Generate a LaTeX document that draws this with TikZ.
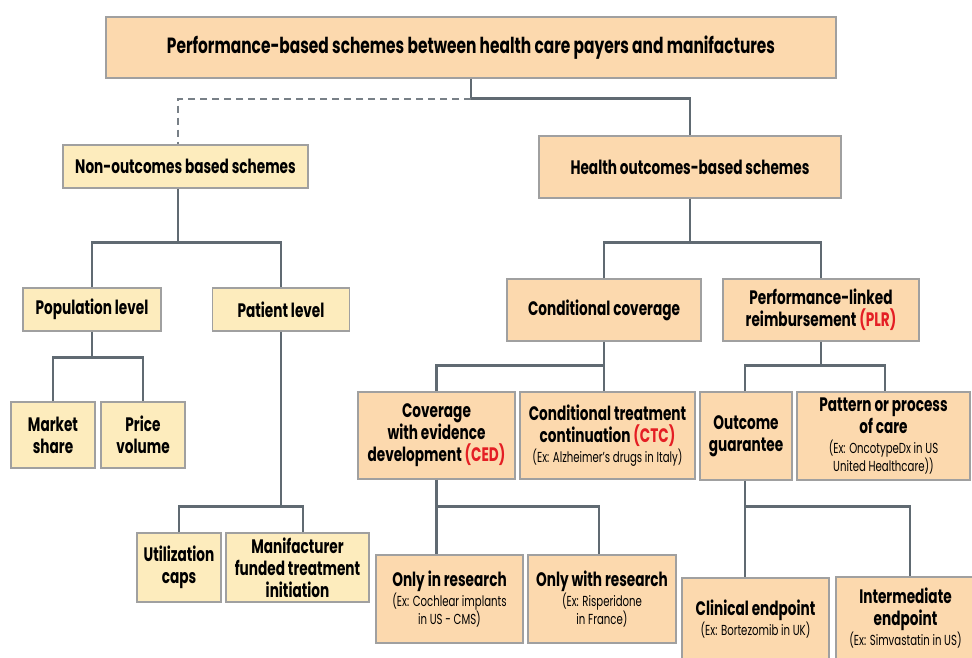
\documentclass[tikz,border=0pt]{standalone}
\usepackage{fontspec}
\setmainfont{Poppins}[FakeStretch=0.70]
\usetikzlibrary{calc}
\definecolor{peach}{RGB}{252,217,174}
\definecolor{paleyel}{RGB}{253,236,189}
\definecolor{boxline}{RGB}{160,160,160}
\definecolor{connline}{RGB}{96,106,114}
\definecolor{redtxt}{RGB}{228,30,36}
\newcommand{\rd}[1]{{\color{redtxt}#1}}
\newcommand{\sm}{\fontsize{14.5}{16}\selectfont\mdseries}
\tikzset{
  bx/.style={draw=boxline, line width=1.2pt, rectangle, inner sep=2pt, align=center,
    font=\fontsize{19.5}{22}\selectfont\bfseries},
  pk/.style={bx, fill=peach},
  yl/.style={bx, fill=paleyel},
  conn/.style={draw=connline, line width=2.3pt},
  dconn/.style={draw=connline!85, line width=2pt, dash pattern=on 7pt off 5pt},
}
\begin{document}
\begin{tikzpicture}[x=1pt,y=-1pt]
\useasboundingbox (0,0) rectangle (972,657);
\begin{scope}
\clip (0,0) rectangle (972,657);
% nodes
\node[pk, minimum width=730pt, minimum height=61pt, font=\fontsize{22}{24}\selectfont\bfseries] (top) at (471,47.5) {Performance-based schemes between health care payers and manifactures};
\node[yl, minimum width=245pt, minimum height=43pt] (nonout) at (185.5,166.5) {Non-outcomes based schemes};
\node[pk, minimum width=302pt, minimum height=62pt] (health) at (690,167) {Health outcomes-based schemes};
\node[yl, minimum width=138pt, minimum height=43pt] (pop) at (92,309.5) {Population level};
\node[yl, minimum width=137pt, minimum height=43pt] (patient) at (281,309.5) {Patient level};
\node[yl, minimum width=84pt, minimum height=66pt] (market) at (53,435) {Market\\share};
\node[yl, minimum width=84pt, minimum height=66pt] (price) at (143,435) {Price\\volume};
\node[yl, minimum width=84pt, minimum height=69pt] (util) at (179,567.5) {Utilization\\caps};
\node[yl, minimum width=143pt, minimum height=69pt] (manuf) at (297.5,567.5) {Manifacturer\\funded treatment\\initiation};
\node[pk, minimum width=194pt, minimum height=62pt] (condcov) at (604,310) {Conditional coverage};
\node[pk, minimum width=196pt, minimum height=62pt] (plr) at (821,310) {Performance-linked\\reimbursement \rd{(PLR)}};
\node[pk, minimum width=157pt, minimum height=87pt] (ced) at (436.5,435.5) {Coverage\\with evidence\\development \rd{(CED)}};
\node[pk, minimum width=175pt, minimum height=87pt] (ctc) at (607.5,435.5) {Conditional treatment\\continuation \rd{(CTC)}\\[-2pt]{\sm (Ex: Alzheimer’s drugs in Italy)}};
\node[pk, minimum width=92pt, minimum height=88pt] (outg) at (746,436) {Outcome\\guarantee};
\node[pk, minimum width=173pt, minimum height=88pt] (pattern) at (883.5,436) {Pattern or process\\of care\\[-2pt]{\sm (Ex: OncotypeDx in US}\\[-4pt]{\sm United Healthcare))}};
\node[pk, minimum width=147pt, minimum height=88pt] (onlyin) at (449.5,599) {Only in research\\[-2pt]{\sm (Ex: Cochlear implants}\\[-4pt]{\sm in US - CMS)}};
\node[pk, minimum width=148pt, minimum height=88pt] (onlywith) at (602,599) {Only with research\\[-2pt]{\sm (Ex: Risperidone}\\[-4pt]{\sm in France)}};
\node[pk, minimum width=147pt, minimum height=82pt] (clinical) at (755.5,619) {Clinical endpoint\\[-2pt]{\sm (Ex: Bortezomib in UK)}};
\node[pk, minimum width=139pt, minimum height=83pt] (intermed) at (905.5,618.5) {Intermediate\\endpoint\\[-2pt]{\sm (Ex: Simvastatin in US)}};
% connectors
\draw[conn] (top.south) -- ++(0,20) -| (health.north);
\draw[dconn] (top.south) ++(0,20) -| ([xshift=-7.5pt]nonout.north);
\draw[conn] ([xshift=-7.5pt]nonout.south) -- ++(0,54) coordinate (j1);
\draw[conn] (pop.north) |- (j1) -| (patient.north);
\draw[conn] (pop.south) -- ++(0,26) coordinate (j2);
\draw[conn] (market.north) |- (j2) -| (price.north);
\draw[conn] (patient.south) -- ++(0,175) coordinate (j3);
\draw[conn] (util.north) |- (j3) -| ([xshift=5.5pt]manuf.north);
\draw[conn] (health.south) -- ++(0,44) coordinate (j4);
\draw[conn] (condcov.north) |- (j4) -| (plr.north);
\draw[conn] (condcov.south) -- ++(0,24) coordinate (j5) -- (condcov.south |- ctc.north);
\draw[conn] (j5) -| (ced.north);
\draw[conn] (plr.south) -- ++(0,24) coordinate (j6);
\draw[conn] ([xshift=-1pt]outg.north) |- (j6) -| ([xshift=1.5pt]pattern.north);
\draw[conn] (ced.south) -- ++(0,27) coordinate (j7) -- (ced.south |- onlyin.north);
\draw[conn] (j7) -| ([xshift=-3pt]onlywith.north);
\draw[conn] ([xshift=-1pt]outg.south) -- ++(0,26) coordinate (j8) -- ([xshift=-1pt]outg.south |- clinical.north);
\draw[conn] (j8) -| ([xshift=4.5pt]intermed.north);
\end{scope}
\end{tikzpicture}
\end{document}
